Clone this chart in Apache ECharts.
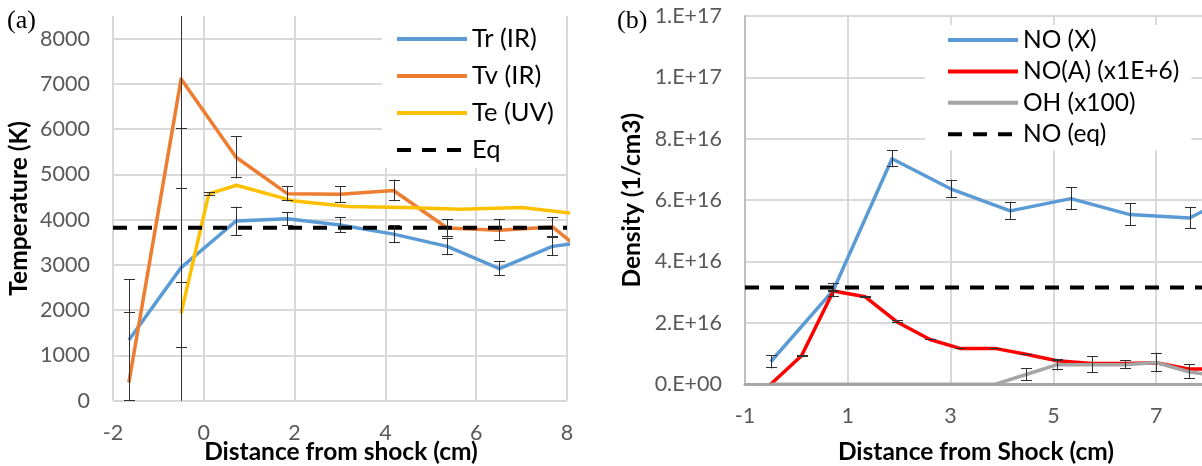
<!DOCTYPE html>
<html>
<head>
<meta charset="utf-8">
<script src="https://cdn.jsdelivr.net/npm/echarts@6/dist/echarts.min.js"></script>
<style>
  html, body { margin: 0; padding: 0; background: #fff; }
  #chart { width: 1202px; height: 466px; }
</style>
</head>
<body>
<div id="chart"></div>
<script>
// ---- Panel (a): temperatures behind the shock ----
const tempX  = [-1.65, -0.5, 0.71, 1.84, 3.0, 4.18, 5.36, 6.51, 7.68, 8.85];
const trIR   = [1340, 2940, 3970, 4020, 3880, 3680, 3410, 2920, 3410, 3575];
const trErr  = [1340, 1770, 320, 150, 175, 200, 195, 170, 215, 0];
const tvIR   = [400, 7110, 5380, 4575, 4560, 4645, 3815, 3765, 3840, 2890];
const tvErr  = [1560, 4520, 470, 170, 185, 240, 200, 240, 220, 0];
const teX    = [-0.5, 0.11, 0.72, 1.95, 3.18, 4.42, 5.66, 7.0, 8.2];
const teUV   = [1930, 4570, 4760, 4420, 4290, 4270, 4230, 4270, 4130];
const teErr  = [4090, 40, 0, 0, 0, 0, 0, 0, 0];
const eqTemp = 3820;

// ---- Panel (b): species densities behind the shock ----
const noxX    = [-0.5, 0.72, 1.86, 3.0, 4.16, 5.34, 6.49, 7.65, 8.8];
const noX     = [0.735e16, 3.07e16, 7.35e16, 6.37e16, 5.65e16, 6.05e16, 5.53e16, 5.42e16, 6.4e16];
const noXErr  = [0.22e16, 0.24e16, 0.28e16, 0.3e16, 0.3e16, 0.38e16, 0.37e16, 0.36e16, 0];
const uvX     = [-0.5, 0.1, 0.72, 1.34, 1.95, 2.6, 3.18, 3.86, 4.47, 5.07, 5.75, 6.4, 7.0, 7.63, 8.25];
const noA     = [0, 0.93e16, 3.04e16, 2.85e16, 2.04e16, 1.46e16, 1.17e16, 1.17e16, 0.98e16, 0.77e16, 0.68e16, 0.68e16, 0.70e16, 0.50e16, 0.50e16];
const noAErr  = [0, 0.03e16, 0.03e16, 0.03e16, 0.04e16, 0.03e16, 0.02e16, 0.02e16, 0.02e16, 0.02e16, 0, 0, 0, 0, 0];
const oh      = [0, 0, 0, 0, 0, 0, 0, 0, 0.32e16, 0.64e16, 0.64e16, 0.64e16, 0.71e16, 0.41e16, 0.26e16];
const ohErr   = [0, 0, 0, 0, 0, 0, 0, 0, 0.21e16, 0.19e16, 0.27e16, 0.15e16, 0.32e16, 0.24e16, 0];
const eqNO    = 3.15e16;

const FONT = 'Lato';
const TICK = { color: '#595959', fontFamily: FONT, fontSize: 21.5 };
const TITLE = { color: '#000', fontFamily: FONT, fontSize: 24.5, fontWeight: 'bold' };
const GRID_LINE = { color: '#d9d9d9', width: 2 };

const pairs = (xs, ys) => xs.map((x, i) => [x, ys[i]]);

// Excel-style vertical error bars: capped ends, clipped at the plot edge without a cap
function errorBars(name, xs, ys, errs, xi, yi) {
  const data = xs.map((x, i) => [x, ys[i], errs[i]]).filter(d => d[2] > 0);
  return {
    type: 'custom', name: name, xAxisIndex: xi, yAxisIndex: yi, z: 6, silent: true,
    encode: { x: 0, y: 1 }, data: data,
    renderItem(params, api) {
      const x = api.value(0), y = api.value(1), e = api.value(2);
      const cs = params.coordSys;
      const top = cs.y, bot = cs.y + cs.height;
      const hi = api.coord([x, y + e]), lo = api.coord([x, y - e]);
      const cx = Math.round(hi[0]) + 0.5;
      const hiIn = hi[1] >= top - 0.5, loIn = lo[1] <= bot + 0.5;
      const y1 = Math.max(hi[1], top), y2 = Math.min(lo[1], bot);
      const st = { stroke: '#303030', lineWidth: 1 };
      const kids = [{ type: 'line', shape: { x1: cx, y1: y1, x2: cx, y2: y2 }, style: st }];
      if (hiIn) kids.push({ type: 'line', shape: { x1: cx - 5.5, y1: Math.round(y1) + 0.5, x2: cx + 5.5, y2: Math.round(y1) + 0.5 }, style: st });
      if (loIn) kids.push({ type: 'line', shape: { x1: cx - 5.5, y1: Math.round(y2) - 0.5, x2: cx + 5.5, y2: Math.round(y2) - 0.5 }, style: st });
      return { type: 'group', children: kids };
    }
  };
}

function lineSeries(name, data, color, xi, yi, extra) {
  return Object.assign({
    type: 'line', name: name, data: data, xAxisIndex: xi, yAxisIndex: yi,
    symbol: 'none', clip: true, silent: true, z: 3,
    lineStyle: { color: color, width: 3.5, cap: 'butt', join: 'round' },
    itemStyle: { color: color }
  }, extra || {});
}

// "1.E+17" style labels
function sciLabel(v) {
  if (v === 0) return '0.E+00';
  const s = v.toExponential(0);            // e.g. "2e+16"
  const m = s.split('e');
  const exp = parseInt(m[1], 10);
  const sign = exp < 0 ? '-' : '+';
  const ae = Math.abs(exp);
  return m[0] + '.E' + sign + (ae < 10 ? '0' + ae : ae);
}

const legendBase = {
  orient: 'vertical', itemWidth: 70, itemHeight: 14, backgroundColor: '#fff',
  selectedMode: false,
  itemStyle: { opacity: 0 },
  lineStyle: { width: 4 }
};

const titleText = (text, x, y) => ({
  type: 'text', x: x, y: y,
  style: { text: text, align: 'center', verticalAlign: 'middle',
    fontFamily: FONT, fontSize: 24.5, fontWeight: 'bold', fill: '#000' }
});

const chart = echarts.init(document.getElementById('chart'));
chart.setOption({
  animation: false,
  backgroundColor: '#fff',
  grid: [
    { left: 113, top: 16, width: 454, height: 384.7, outerBoundsMode: 'none', containLabel: false },   // (a) data area
    { left: 113, top: 38.6, width: 454, height: 362.1, outerBoundsMode: 'none', containLabel: false }, // (a) horizontal grid to 8000
    { left: 745, top: 16, width: 514, height: 368.3, outerBoundsMode: 'none', containLabel: false }     // (b)
  ],
  xAxis: [
    {
      gridIndex: 0, type: 'value', min: -2, max: 8, interval: 2,
      axisLine: { show: false }, axisTick: { show: false },
      splitLine: { show: true, lineStyle: GRID_LINE },
      axisLabel: Object.assign({ margin: 21 }, TICK)
    },
    { gridIndex: 1, type: 'value', min: -2, max: 8, show: false },
    {
      gridIndex: 2, type: 'value', min: -1, max: 9, interval: 2,
      axisLine: { show: true, onZero: false, lineStyle: { color: '#a6a6a6', width: 3 } },
      axisTick: { show: false },
      splitLine: { show: true, lineStyle: GRID_LINE },
      axisLabel: Object.assign({ margin: 21 }, TICK)
    }
  ],
  yAxis: [
    {
      gridIndex: 0, type: 'value', min: 0, max: 8500, interval: 1000,
      axisLine: { show: false }, axisTick: { show: false }, splitLine: { show: false },
      axisLabel: Object.assign({ margin: 23, formatter: v => (v > 8000 ? '' : String(v)) }, TICK),
      name: 'Temperature (K)', nameLocation: 'middle', nameGap: 81, nameTextStyle: TITLE
    },
    {
      gridIndex: 1, type: 'value', min: 0, max: 8000, interval: 1000,
      axisLine: { show: false }, axisTick: { show: false }, axisLabel: { show: false },
      splitLine: { show: true, lineStyle: GRID_LINE }
    },
    {
      gridIndex: 2, type: 'value', min: 0, max: 1.2e17, interval: 2e16,
      axisLine: { show: true, onZero: false, lineStyle: { color: '#bfbfbf', width: 2 } },
      axisTick: { show: false },
      splitLine: { show: true, lineStyle: GRID_LINE },
      axisLabel: Object.assign({ margin: 23, formatter: sciLabel }, TICK),
      name: 'Density (1/cm3)', nameLocation: 'middle', nameGap: 100, nameTextStyle: TITLE
    }
  ],
  legend: [
    Object.assign({}, legendBase, {
      data: ['Tr (IR)', 'Tv (IR)', 'Te (UV)', 'Eq'],
      left: 382, top: 16, padding: [10, 12, 5, 13], itemGap: 11,
      textStyle: { fontFamily: FONT, fontSize: 25.5, color: '#000', lineHeight: 26 }
    }),
    Object.assign({}, legendBase, {
      data: ['NO (X)', 'NO(A) (x1E+6)', 'OH (x100)', 'NO (eq)'],
      left: 925, top: 25, padding: [2, 12, 3, 21], itemGap: 5.4,
      textStyle: { fontFamily: FONT, fontSize: 24.5, color: '#000', lineHeight: 26 }
    })
  ],
  graphic: [
    { type: 'text', left: 7, top: 8, style: { text: '(a)', fontFamily: 'Liberation Serif', fontSize: 26, fill: '#000' } },
    { type: 'text', left: 617, top: 8, style: { text: '(b)', fontFamily: 'Liberation Serif', fontSize: 26, fill: '#000' } },
    titleText('Distance from shock (cm)', 341, 452),
    titleText('Distance from Shock (cm)', 976, 452)
  ],
  series: [
    lineSeries('Tr (IR)', pairs(tempX, trIR), '#5b9bd5', 0, 0),
    lineSeries('Tv (IR)', pairs(tempX, tvIR), '#ed7d31', 0, 0),
    lineSeries('Te (UV)', pairs(teX, teUV), '#ffc000', 0, 0),
    lineSeries('Eq', [[-2, eqTemp], [8, eqTemp]], '#000', 0, 0,
      { lineStyle: { color: '#000', width: 4, type: [14, 11], cap: 'butt' } }),
    errorBars('Tr err', tempX, trIR, trErr, 0, 0),
    errorBars('Tv err', tempX, tvIR, tvErr, 0, 0),
    errorBars('Te err', teX, teUV, teErr, 0, 0),

    lineSeries('NO (X)', pairs(noxX, noX), '#5b9bd5', 2, 2),
    lineSeries('NO(A) (x1E+6)', pairs(uvX, noA), '#ff0000', 2, 2),
    lineSeries('OH (x100)', pairs(uvX, oh), '#a5a5a5', 2, 2),
    lineSeries('NO (eq)', [[-1, eqNO], [9, eqNO]], '#000', 2, 2,
      { lineStyle: { color: '#000', width: 4, type: [14, 11], cap: 'butt' } }),
    errorBars('NO (X) err', noxX, noX, noXErr, 2, 2),
    errorBars('NO(A) err', uvX, noA, noAErr, 2, 2),
    errorBars('OH err', uvX, oh, ohErr, 2, 2)
  ]
});
</script>
</body>
</html>
